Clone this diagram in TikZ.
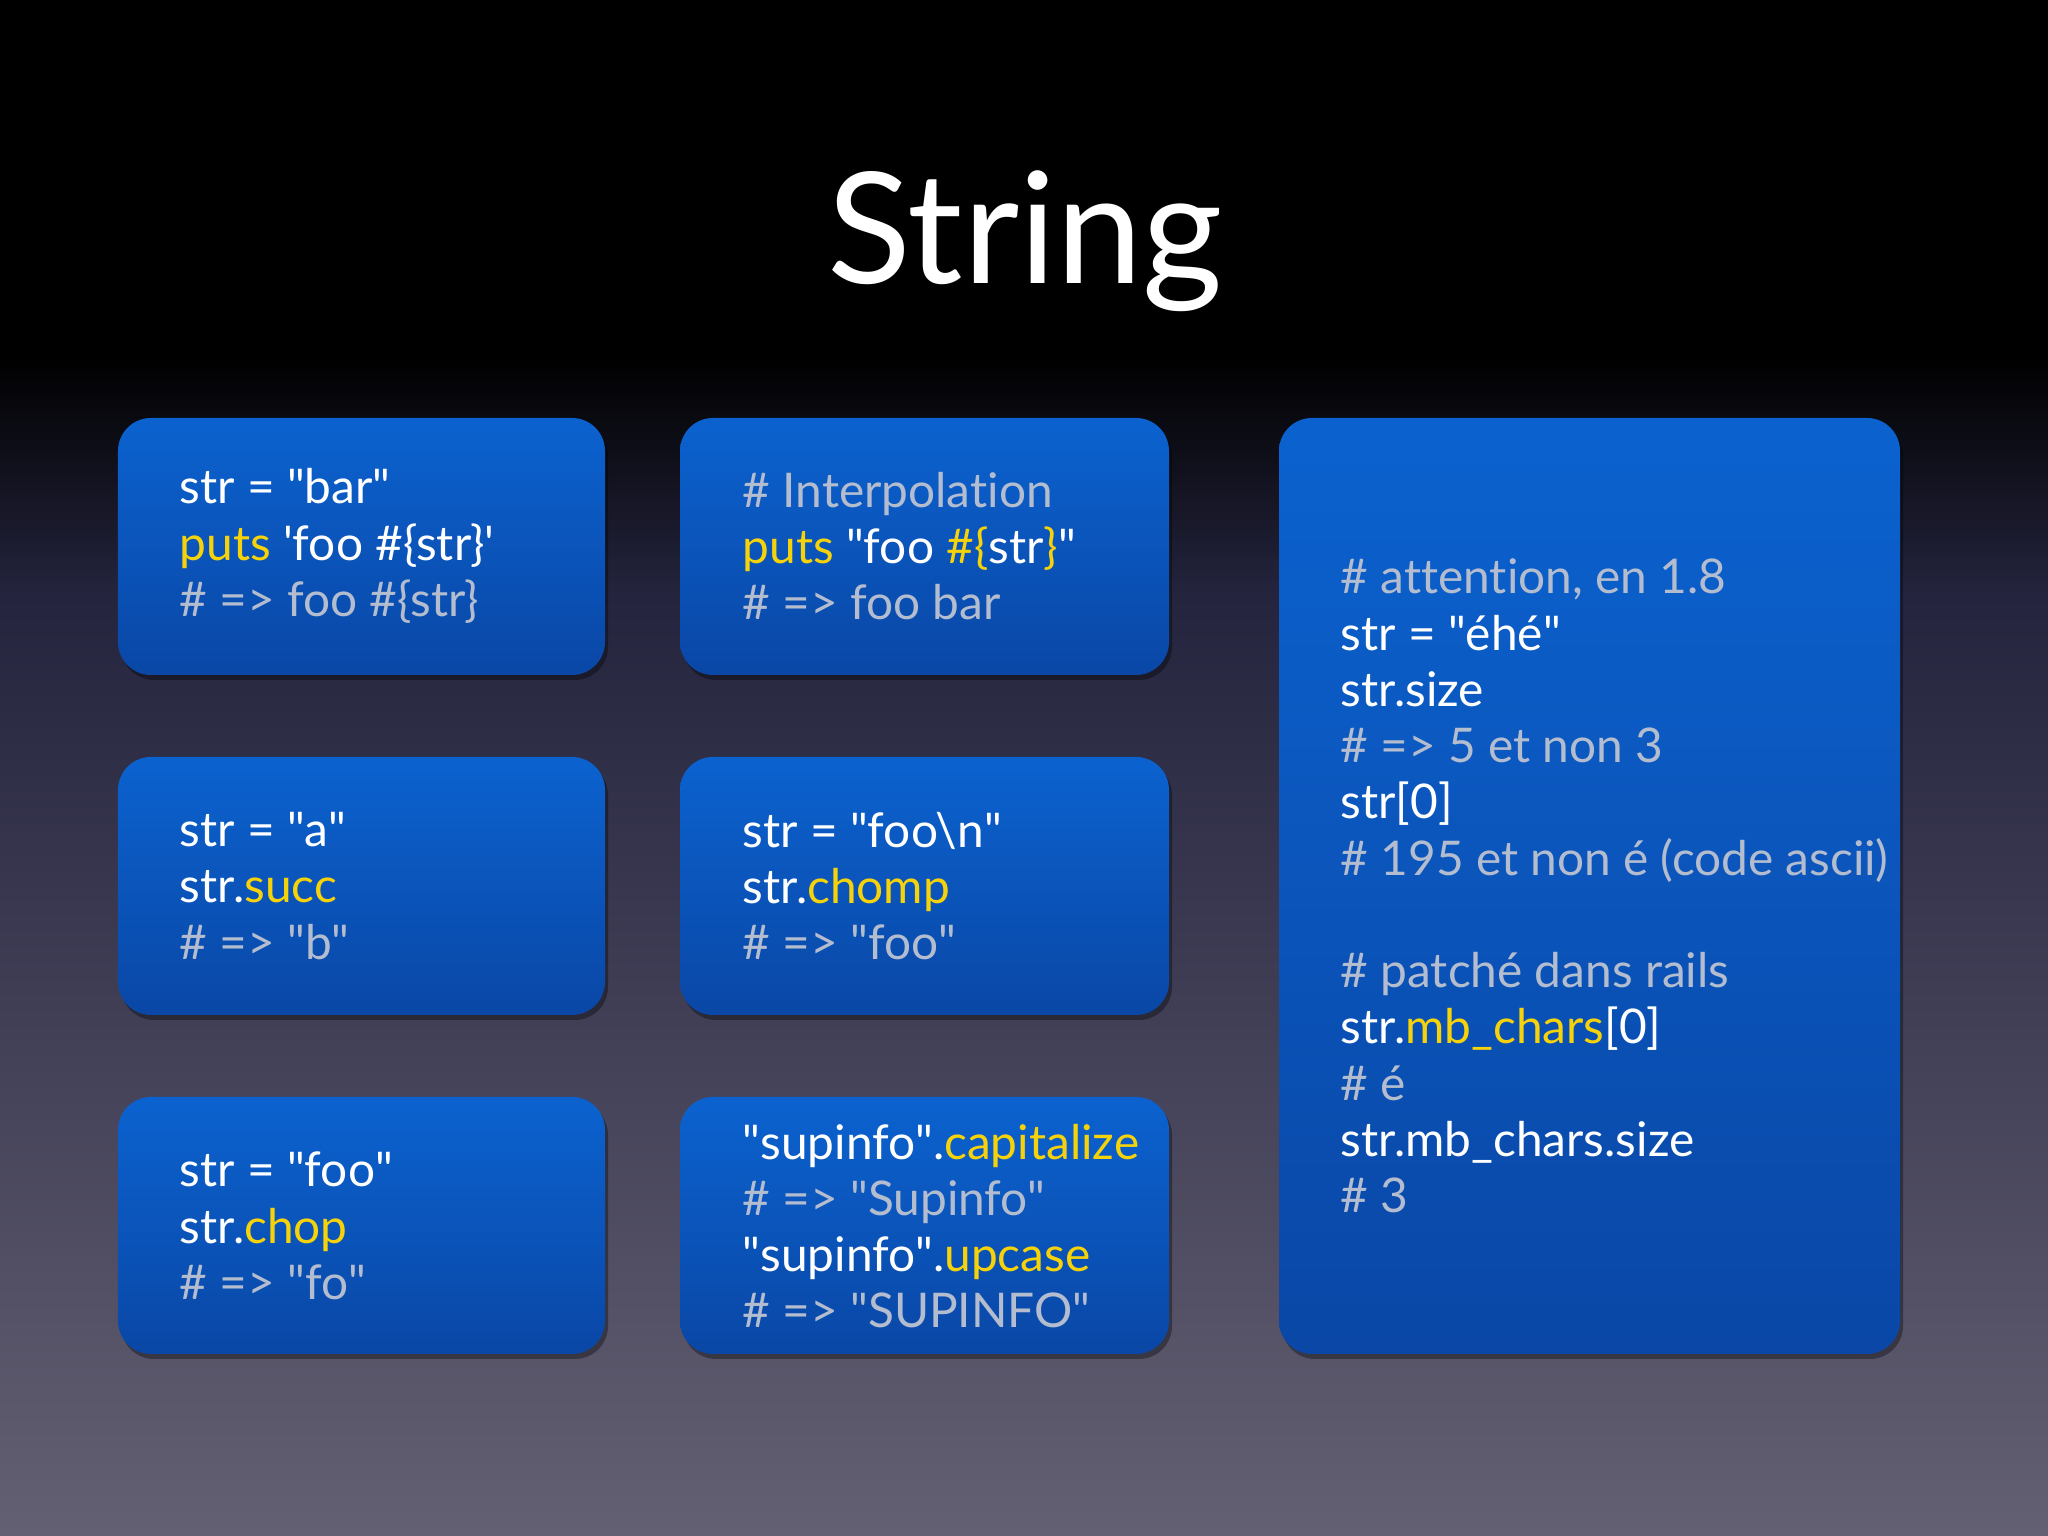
\documentclass[tikz,border=0pt]{standalone}
\usepackage{fontspec}
\setmainfont{Lato}[Ligatures=NoCommon]
\usetikzlibrary{positioning,shadows}
\definecolor{kwyellow}{HTML}{F6D20A}
\definecolor{cmgray}{HTML}{B3BDCF}
\definecolor{boxtop}{HTML}{0B62CF}
\definecolor{boxbot}{HTML}{0A47A6}
\definecolor{bgmid}{HTML}{24243E}
\definecolor{bgbot}{HTML}{646073}
\newcommand{\kw}[1]{\textcolor{kwyellow}{#1}}
\newcommand{\cm}[1]{\textcolor{cmgray}{#1}}
\newcommand{\q}{\textquotedbl}
\tikzset{
  box/.style={rounded corners=0.33cm,top color=boxtop,bottom color=boxbot,draw=none,
    drop shadow={shadow xshift=0.03cm,shadow yshift=-0.05cm,opacity=0.35,fill=black}},
  code/.style={anchor=west,align=left,text=white,inner sep=0pt,
    font=\fontsize{13.6}{16}\selectfont}
}
\begin{document}
\begin{tikzpicture}
  %fond
  \useasboundingbox (0,0) rectangle (20.48,15.36);
  \fill[black] (0,11.8) rectangle (20.48,15.36);
  \shade[top color=black,bottom color=bgmid] (0,9.4) rectangle (20.48,11.81);
  \shade[top color=bgmid,bottom color=bgbot] (0,0) rectangle (20.48,9.41);
  %titre
  \node[text=white,font=\fontsize{44}{48}\selectfont] (titre) at (10.25,12.95) {String};

  %boites
  \draw[box] (1.18,8.61) rectangle (6.05,11.18);
  \draw[box] (6.80,8.61) rectangle (11.69,11.18);
  \draw[box] (1.18,5.21) rectangle (6.05,7.79);
  \draw[box] (6.80,5.21) rectangle (11.69,7.79);
  \draw[box] (1.18,1.82) rectangle (6.05,4.39);
  \draw[box] (6.80,1.82) rectangle (11.69,4.39);
  \draw[box] (12.79,1.82) rectangle (19.00,11.18);

  %code
  \node[code] (bar) at (1.79,9.90) {str = \q bar\q\\
    \kw{puts} \textquotesingle foo \#\{str\}\textquotesingle\\
    \cm{\# => foo \#\{str\}}};
  \node[code] (interp) at (7.42,9.90) {\cm{\# Interpolation}\\
    \kw{puts} \q foo \kw{\#\{}str\kw{\}}\q\\
    \cm{\# => foo bar}};
  \node[code] (succ) at (1.79,6.50) {str = \q a\q\\
    str.\kw{succ}\\
    \cm{\# => \q b\q}};
  \node[code] (chomp) at (7.42,6.50) {str = \q foo\textbackslash n\q\\
    str.\kw{chomp}\\
    \cm{\# => \q foo\q}};
  \node[code] (chop) at (1.79,3.10) {str = \q foo\q\\
    str.\kw{chop}\\
    \cm{\# => \q fo\q}};
  \node[code] (upcase) at (7.42,3.10) {\q supinfo\q.\kw{capitalize}\\
    \cm{\# => \q Supinfo\q}\\
    \q supinfo\q.\kw{upcase}\\
    \cm{\# => \q SUPINFO\q}};
  \node[code] (ascii) at (13.40,6.50) {\cm{\# attention, en 1.8}\\
    str = \q éhé\q\\
    str.size\\
    \cm{\# => 5 et non 3}\\
    str[0]\\
    \cm{\# 195 et non é (code ascii)}\\[16pt]
    \cm{\# patché dans rails}\\
    str.\kw{mb\_chars}[0]\\
    \cm{\# é}\\
    str.mb\_chars.size\\
    \cm{\# 3}};
\end{tikzpicture}
\end{document}
